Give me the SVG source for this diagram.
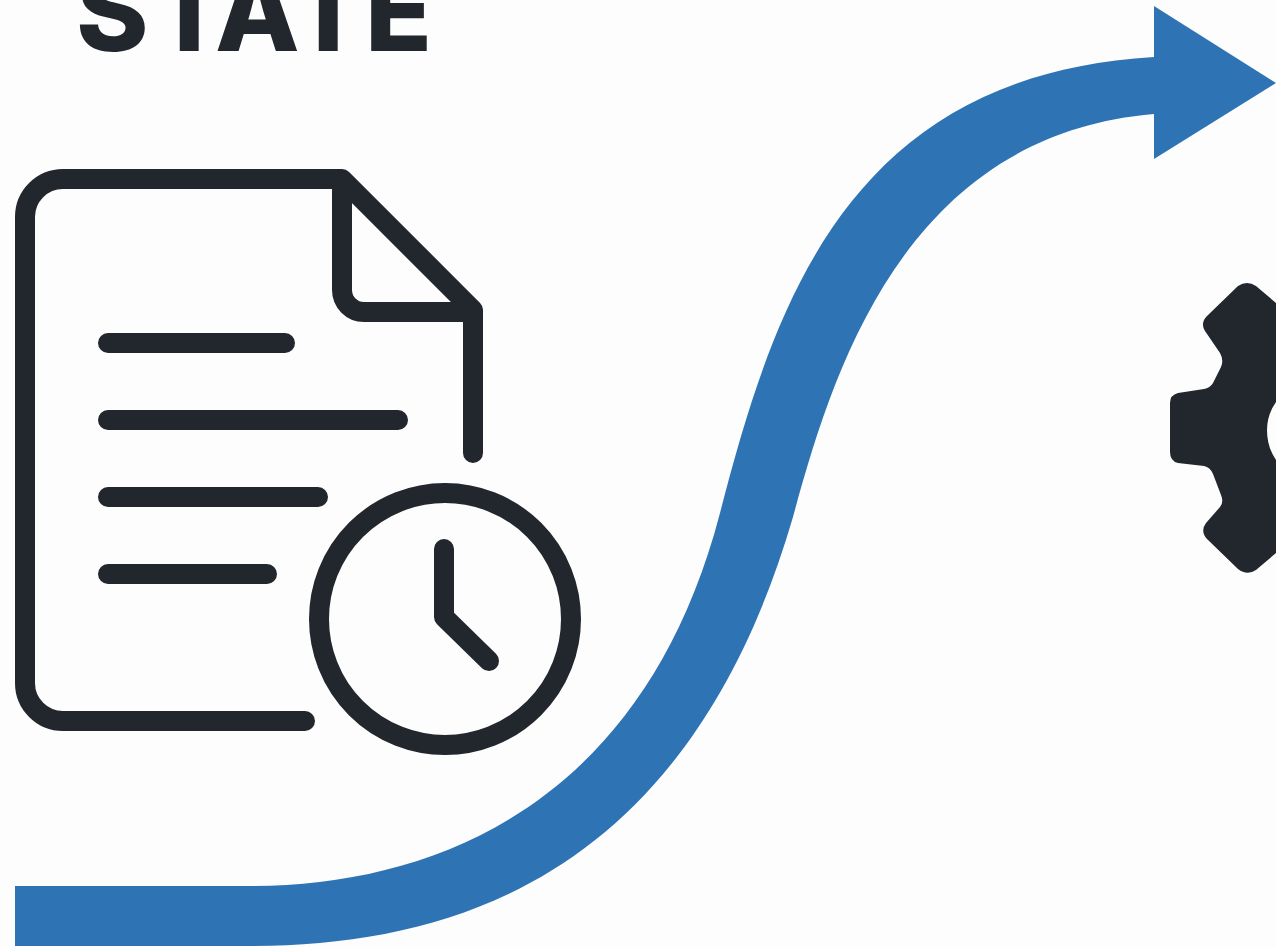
<svg xmlns="http://www.w3.org/2000/svg" width="1276" height="947" viewBox="0 0 1276 947">
<style>
.ink{fill:none;stroke:#22272d;stroke-width:20;stroke-linecap:round;stroke-linejoin:round}
.title{font-family:Inter,"Liberation Sans",Arial,sans-serif;font-weight:800;font-size:110px;fill:#22272d}
</style>
<rect width="1276" height="947" fill="#fdfdfd"/>
<text class="title" x="76 152 215 291 365" y="51">STATE</text>
<g id="connectors">
<path fill="#2e74b5" d="M15 886H250C440 886 645 800 720 513C775 300 850 75 1154 57H1160V114H1154C905 135 833 370 793 517C692 863 470 946 250 946H15Z"/>
<polygon points="1154,6 1276,83 1154,159" fill="#2e74b5"/>
</g>
<g id="document">
<path class="ink" d="M305 721H63A38 38 0 0 1 25 683V217A38 38 0 0 1 63 179H342L473 310V453"/>
<path class="ink" d="M342 182V290A22 22 0 0 0 364 312H473"/>
<path class="ink" d="M108 343H285M108 420H398M108 497H318M108 574H267"/>
</g>
<g id="clock">
<circle class="ink" cx="445" cy="619" r="126"/>
<path class="ink" d="M444 549V617L489 661"/>
</g>
<g id="gear">
<path fill="#22272d" d="M1276 303L1256 286Q1247 280 1238 286L1207 316Q1200 323 1205 331L1220 353Q1224 360 1221 367L1213 383Q1210 388 1204 389L1178 393Q1170 395 1170 403V452Q1170 461 1178 463L1204 466Q1210 467 1213 474L1221 495Q1224 502 1220 507L1206 523Q1200 531 1207 539L1238 569Q1247 576 1256 570L1276 553V460Q1267 447 1267 430Q1267 415 1276 402Z"/>
</g>
</svg>
